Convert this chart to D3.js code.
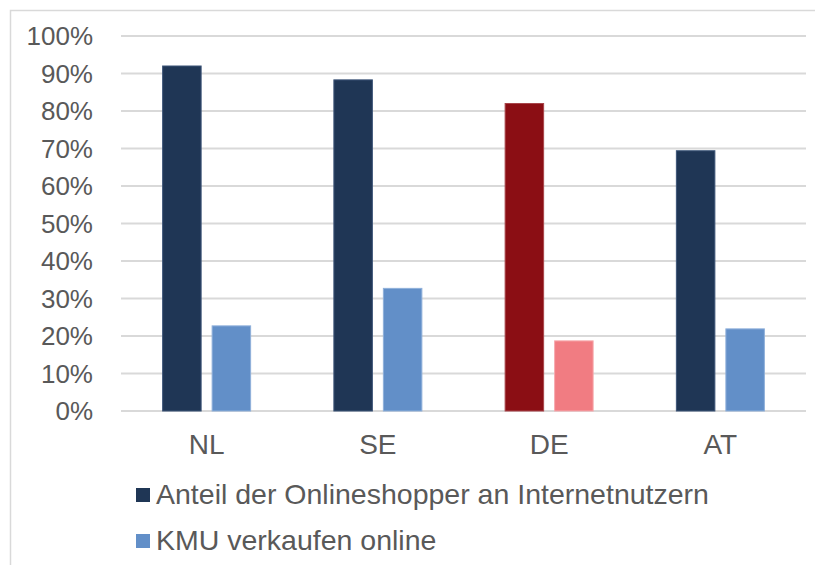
<!DOCTYPE html>
<html>
<head>
<meta charset="utf-8">
<script src="https://cdn.jsdelivr.net/npm/d3@7"></script>
<style>
  body { margin: 0; background: #fff; }
  text { font-family: "Liberation Sans", Arial, sans-serif; fill: #595959; }
</style>
</head>
<body>
<svg id="chart" width="815" height="565"></svg>
<script>
// data
const categories = ["NL", "SE", "DE", "AT"];
const seriesNames = ["Anteil der Onlineshopper an Internetnutzern", "KMU verkaufen online"];
const shoppers = [92.0, 88.3, 82.0, 69.4];
const kmu = [22.7, 32.7, 18.7, 21.9];
const yTicks = [0, 10, 20, 30, 40, 50, 60, 70, 80, 90, 100];
const highlight = "DE";

function drawChart() {
    var svg = d3.select("#chart");

    // outer frame (runs off the right and bottom edge)
    svg.append("rect")
        .attr("x", 10.5).attr("y", 10.5)
        .attr("width", 820).attr("height", 570)
        .attr("fill", "none")
        .attr("stroke", "#d9d9d9")
        .attr("stroke-width", 1.5);

    var x = d3.scaleBand().domain(categories).range([121, 806]);
    var y = d3.scaleLinear().domain([0, 100]).range([411, 36]);

    var bw = x.bandwidth();
    var x1 = d3.scaleBand()
        .domain([0, 1])
        .range([bw / 2 - 44, bw / 2 + 44])
        .paddingInner(11 / 49.5)
        .paddingOuter(0);

    // gridlines
    svg.append("g")
        .selectAll("line")
        .data(yTicks)
        .enter()
        .append("line")
        .attr("x1", 121).attr("x2", 806)
        .attr("y1", d => y(d)).attr("y2", d => y(d))
        .attr("stroke", "#d9d9d9")
        .attr("stroke-width", 2);

    // y tick labels
    svg.append("g")
        .selectAll("text")
        .data(yTicks)
        .enter()
        .append("text")
        .attr("x", 93)
        .attr("y", d => y(d))
        .attr("dy", "0.36em")
        .attr("text-anchor", "end")
        .attr("font-size", 26)
        .text(d => d + "%");

    var fills = [
        ["#1f3655", "#628fc8"],   // normal
        ["#8b0e14", "#f17c82"]    // highlighted country
    ];
    var strokes = [
        ["#3d5578", "#8fb0da"],
        ["#a8454a", "#f6a9ad"]
    ];

    var rows = [];
    categories.forEach(function(c, i) {
        [shoppers[i], kmu[i]].forEach(function(v, s) {
            rows.push({ cat: c, s: s, v: v });
        });
    });

    svg.append("g")
        .selectAll("rect")
        .data(rows)
        .enter()
        .append("rect")
        .attr("x", d => x(d.cat) + x1(d.s))
        .attr("y", d => y(d.v))
        .attr("width", x1.bandwidth())
        .attr("height", d => y(0) - y(d.v))
        .attr("fill", d => fills[d.cat == highlight ? 1 : 0][d.s])
        .attr("stroke", d => strokes[d.cat == highlight ? 1 : 0][d.s])
        .attr("stroke-width", 1);

    // category labels
    svg.append("g")
        .selectAll("text")
        .data(categories)
        .enter()
        .append("text")
        .attr("x", d => x(d) + bw / 2)
        .attr("y", 454)
        .attr("text-anchor", "middle")
        .attr("font-size", 28)
        .text(d => d);

    // legend
    var leg = svg.append("g")
        .selectAll("g")
        .data(seriesNames)
        .enter()
        .append("g")
        .attr("transform", (d, i) => "translate(136," + (488 + i * 46) + ")");

    leg.append("rect")
        .attr("width", 14).attr("height", 14)
        .attr("fill", (d, i) => fills[0][i]);

    leg.append("text")
        .attr("x", 20)
        .attr("y", 15.5)
        .attr("font-size", 28.5)
        .text(d => d);
}

drawChart();
</script>
</body>
</html>
